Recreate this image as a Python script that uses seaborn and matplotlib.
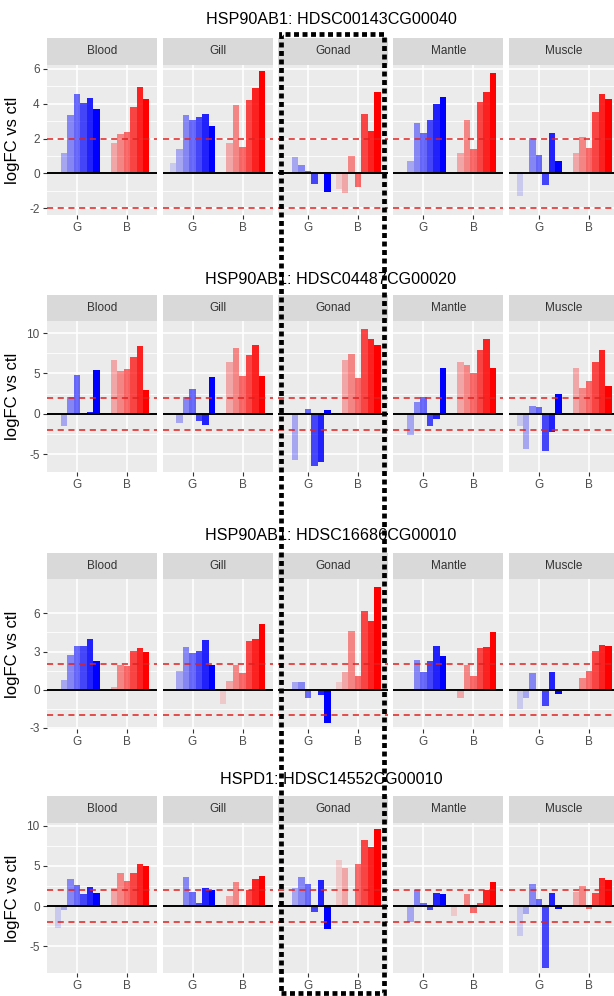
import numpy as np
import pandas as pd
import seaborn as sns
import matplotlib
matplotlib.use("Agg")
import matplotlib.pyplot as plt
from matplotlib.patches import Rectangle
from matplotlib.ticker import FixedLocator

# ---------------- data ----------------
tissues = ["Blood", "Gill", "Gonad", "Mantle", "Muscle"]
groups = ["G", "B"]
reps = ["r1", "r2", "r3", "r4", "r5", "r6", "r7"]
genes = ["HSP90AB1: HDSC00143CG00040",
         "HSP90AB1: HDSC04487CG00020",
         "HSP90AB1: HDSC16686CG00010",
         "HSPD1: HDSC14552CG00010"]

# gene 1 (rows: Blood, Gill, Gonad, Mantle, Muscle; 7 replicates each)
g1_G = [[0.0, 1.19, 3.35, 4.54, 4.06, 4.35, 3.68],
        [0.57, 1.38, 3.35, 3.07, 3.22, 3.39, 2.72],
        [0.0, 0.91, 0.46, 0.15, -0.59, 0.02, -1.09],
        [0.0, 0.71, 2.87, 2.3, 3.07, 3.98, 4.37],
        [-1.3, 0.0, 2.01, 1.05, -0.67, 2.3, 0.71]]
g1_B = [[0.0, 1.72, 2.24, 2.36, 3.79, 4.94, 4.27],
        [0.0, 1.75, 3.9, 1.53, 4.23, 4.9, 5.9],
        [-0.93, -1.12, 1.0, -0.78, 3.39, 2.44, 4.69],
        [0.0, 1.15, 3.07, 1.4, 4.08, 4.66, 5.79],
        [0.0, 1.15, 2.1, 1.47, 3.54, 4.56, 4.25]]
# gene 2
g2_G = [[0.0, -1.56, 2.13, 4.8, 0.0, 0.2, 5.4],
        [0.0, -1.07, 2.13, 3.03, -0.86, -1.35, 4.59],
        [0.0, -5.67, 0.05, 0.65, -6.5, -6.0, 0.53],
        [0.0, -2.58, 1.52, 2.13, -1.56, -0.66, 5.7],
        [-1.5, -4.34, 1.02, 0.9, -4.55, -2.3, 2.46]]
g2_B = [[0.0, 6.64, 5.33, 5.61, 7.05, 8.4, 2.95],
        [0.0, 6.43, 8.16, 4.67, 7.25, 8.57, 4.75],
        [0.05, 6.65, 7.39, 4.4, 10.5, 9.3, 8.5],
        [0.0, 6.43, 6.1, 5.12, 7.87, 9.22, 5.7],
        [0.0, 5.7, 3.16, 4.06, 6.43, 7.95, 3.44]]
# gene 3
g3_G = [[0.0, 0.78, 2.75, 3.45, 3.4, 3.97, 2.23],
        [0.0, 1.45, 3.38, 2.86, 3.06, 3.9, 1.95],
        [0.0, 0.59, 0.59, -0.62, 0.02, -0.38, -2.59],
        [-0.1, 0.05, 2.34, 1.38, 2.23, 3.45, 2.68],
        [-1.53, -0.65, 1.32, -0.13, -1.27, 1.38, -0.31]]
g3_B = [[0.0, 0.2, 1.97, 1.9, 3.06, 3.32, 2.99],
        [-1.1, 0.68, 1.97, 1.32, 3.8, 3.95, 5.19],
        [0.64, 1.41, 4.6, 1.1, 6.15, 5.38, 8.05],
        [0.0, -0.65, 1.97, 1.12, 3.32, 3.35, 4.57],
        [0.0, -0.13, 0.94, 1.45, 3.06, 3.53, 3.4]]
# gene 4
g4_G = [[-2.77, -0.5, 3.35, 2.6, 1.45, 2.31, 1.57],
        [0.0, 0.05, 3.64, 1.78, 0.4, 2.27, 1.98],
        [0.0, 2.2, 3.6, 2.75, -0.75, 3.2, -2.85],
        [0.0, -2.0, 2.04, 0.34, -0.51, 1.62, 1.53],
        [-3.7, -1.0, 2.77, 0.9, -7.7, 1.62, -0.43]]
g4_B = [[0.0, 2.19, 4.17, 3.1, 4.17, 5.29, 5.0],
        [0.0, 1.2, 3.0, 0.05, 2.0, 3.4, 3.7],
        [5.7, 4.8, 0.0, 5.2, 8.2, 7.3, 9.6],
        [-1.2, 0.05, 1.53, -0.85, 0.43, 2.04, 3.0],
        [0.0, 1.7, 2.55, -0.43, 1.62, 3.53, 3.19]]

y_ticks = [[-2, 0, 2, 4, 6], [-5, 0, 5, 10], [-3, 0, 3, 6], [-5, 0, 5, 10]]
y_limits = [(-2.4, 6.23), (-7.2, 11.5), (-3.08, 8.7), (-8.35, 10.35)]
thresholds = [-2, 2]

# ---------------- style ----------------
plt.rcParams["font.family"] = ["Liberation Sans", "DejaVu Sans"]
W, H = 614, 996
fig = plt.figure(figsize=(W / 100, H / 100), dpi=100)
fig.patch.set_facecolor("white")

def fx(px):
    return px / W

def fy(py):
    return 1 - py / H

panel_left = [47, 162.5, 278, 393.5, 509]
panel_w = 110
# title_y, strip_top, panel_top, panel_bottom
row_px = [(20, 38, 65, 215), (279, 295, 321, 472),
          (535, 553, 579, 729), (780, 796, 823, 973)]
alphas = [0.14, 0.29, 0.43, 0.57, 0.71, 0.86, 1.0]
gene_G = [g1_G, g2_G, g3_G, g4_G]
gene_B = [g1_B, g2_B, g3_B, g4_B]

for r in range(4):
    ty, st, pt, pb = row_px[r]
    fig.text(fx(331), fy(ty), genes[r], ha="center", va="center",
             fontsize=11.6, color="black")
    fig.text(fx(13), fy((pt + pb) / 2), "logFC vs ctl", rotation=90,
             ha="center", va="center", fontsize=12, color="black")
    ticks = y_ticks[r]
    minors = [(a + b) / 2 for a, b in zip(ticks[:-1], ticks[1:])]
    for t in range(5):
        l = panel_left[t]
        # strip
        sax = fig.add_axes([fx(l), fy(pt), fx(panel_w), (pt - st) / H])
        sax.set_facecolor("#D9D9D9")
        sax.set_xticks([]); sax.set_yticks([])
        for s in sax.spines.values():
            s.set_visible(False)
        sax.text(0.5, 0.5, tissues[t], ha="center", va="center",
                 fontsize=8.5, color="#333333", transform=sax.transAxes)
        # panel
        ax = fig.add_axes([fx(l), fy(pb), fx(panel_w), (pb - pt) / H])
        ax.set_facecolor("#EBEBEB")
        df_g = pd.DataFrame({"grp": "G", "rep": reps, "val": gene_G[r][t]})
        df_b = pd.DataFrame({"grp": "B", "rep": reps, "val": gene_B[r][t]})
        sns.barplot(data=df_g, x="grp", y="val", hue="rep", order=groups,
                    hue_order=reps, palette={k: "#0000FF" for k in reps},
                    width=0.9, gap=0, dodge=True, legend=False, errorbar=None,
                    saturation=1, linewidth=0, edgecolor="none", ax=ax)
        sns.barplot(data=df_b, x="grp", y="val", hue="rep", order=groups,
                    hue_order=reps, palette={k: "#FF0000" for k in reps},
                    width=0.9, gap=0, dodge=True, legend=False, errorbar=None,
                    saturation=1, linewidth=0, edgecolor="none", ax=ax)
        for i, cont in enumerate(ax.containers):
            for p in cont:
                p.set_alpha(alphas[i % 7])
                p.set_zorder(2)
        ax.axhline(0, color="black", lw=1.4, zorder=4)
        for th in thresholds:
            ax.axhline(th, color="#E02020", lw=1.1, ls=(0, (4, 3)), zorder=5)
        ax.set_xlim(-0.6, 1.6)
        ax.set_ylim(*y_limits[r])
        ax.set_xticks([0, 1])
        ax.set_xticklabels(groups)
        ax.set_yticks(ticks)
        ax.yaxis.set_minor_locator(FixedLocator(minors))
        ax.set_axisbelow(True)
        ax.grid(which="major", color="white", lw=1.2)
        ax.grid(which="minor", axis="y", color="white", lw=0.6)
        ax.set_xlabel(""); ax.set_ylabel("")
        for s in ax.spines.values():
            s.set_visible(False)
        ax.tick_params(axis="both", which="major", length=2.8, width=0.8,
                       color="#333333", labelcolor="#4D4D4D", labelsize=8.5,
                       pad=2.5)
        ax.tick_params(axis="y", which="minor", length=0)
        if t == 0:
            ax.set_yticklabels([str(v) for v in ticks])
        else:
            ax.tick_params(axis="y", which="both", left=False, labelleft=False)

# dotted highlight box around Gonad column
fig.add_artist(Rectangle((fx(281), fy(993)), fx(383.5 - 281), (993 - 34) / H,
                         transform=fig.transFigure, fill=False,
                         edgecolor="black", lw=3.4,
                         linestyle=(0, (1.05, 0.75)), zorder=20))

fig.savefig("out.png", dpi=100)
